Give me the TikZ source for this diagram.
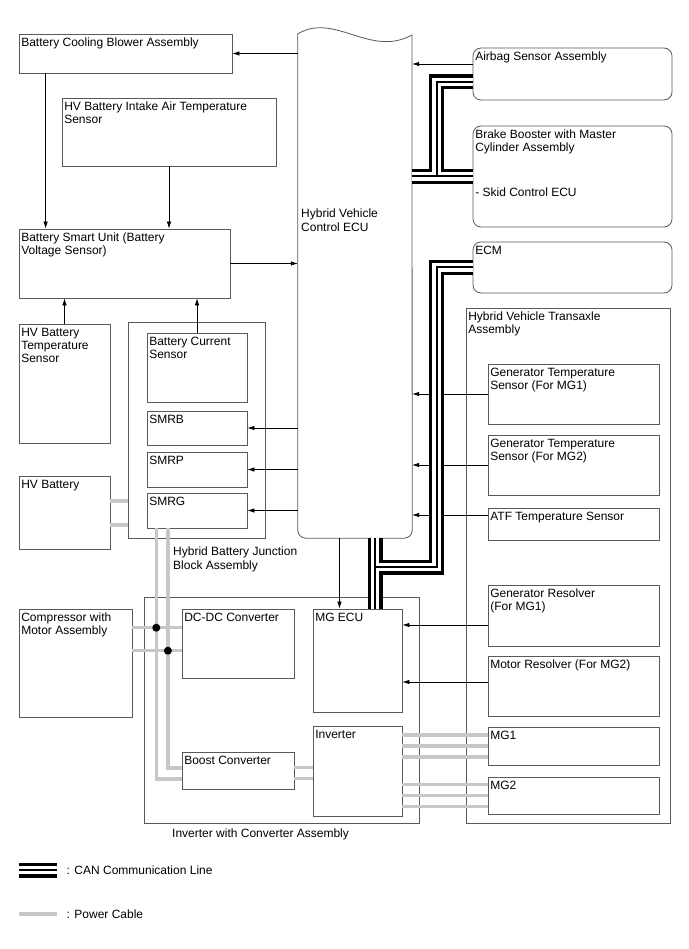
\documentclass[tikz,border=0pt]{standalone}
\usepackage{fontspec}
\setmainfont{Liberation Sans}
\usetikzlibrary{arrows.meta, fit, positioning}
\newcommand{\lbl}{\fontsize{12}{13.4}\selectfont}

\begin{document}
\begin{tikzpicture}[
    x=1pt, y=-1pt,
    box/.style={draw=black!65, line width=0.8pt, inner sep=0pt},
    rbox/.style={box, rounded corners=8pt},
    boxtext/.style={anchor=north west, align=left, inner xsep=2.5pt, inner ysep=4pt, font=\lbl},
    arrow/.style={-{Latex[length=7pt,width=4.5pt]}, line width=0.7pt},
    power/.style={line width=3.5pt, draw=black!22}
]
    \useasboundingbox[fill=white] (0,0) rectangle (688,949);

    % battery side
    \node[box, fit={(19,34) (232,73)}, label={[boxtext]north west:Battery Cooling Blower Assembly}] (blower) {};
    \node[box, fit={(62,98) (276,166)}, label={[boxtext]north west:{HV Battery Intake Air Temperature\\Sensor}}] (intake) {};
    \node[box, fit={(19,229) (230,298)}, label={[boxtext]north west:{Battery Smart Unit (Battery\\Voltage Sensor)}}] (smart) {};
    \node[box, fit={(19,324) (110,443)}, label={[boxtext]north west:{HV Battery\\Temperature\\Sensor}}] (btemp) {};
    \node[box, fit={(128,322) (265,538)}] (jblock) {};
    \node[box, fit={(147,333) (247,402)}, label={[boxtext]north west:{Battery Current\\Sensor}}] (current) {};
    \node[box, fit={(147,411) (247,445)}, label={[boxtext]north west:SMRB}] (smrb) {};
    \node[box, fit={(147,452) (247,487)}, label={[boxtext]north west:SMRP}] (smrp) {};
    \node[box, fit={(147,493) (247,528)}, label={[boxtext]north west:SMRG}] (smrg) {};
    \node[boxtext] (jblocktxt) at (170.5,543) {Hybrid Battery Junction\\Block Assembly};
    \node[box, fit={(19,476) (110,549)}, label={[boxtext]north west:HV Battery}] (hvbatt) {};
    \node[box, fit={(19,609) (132,717)}, label={[boxtext]north west:{Compressor with\\Motor Assembly}}] (compr) {};

    % inverter
    \node[box, fit={(144,597) (419,823)}] (invconv) {};
    \node[box, fit={(182,609) (294,678)}, label={[boxtext]north west:DC-DC Converter}] (dcdc) {};
    \node[box, fit={(182,752) (294,789)}, label={[boxtext]north west:Boost Converter}] (boost) {};
    \node[box, fit={(313,609) (402,712)}, label={[boxtext]north west:MG ECU}] (mgecu) {};
    \node[box, fit={(313,726) (402,816)}, label={[boxtext]north west:Inverter}] (inverter) {};
    \node[boxtext] (invtxt) at (169.5,825) {Inverter with Converter Assembly};

    % hybrid vehicle control ecu
    \node[fit={(298,34) (412,538)}, inner sep=0pt] (hvecu) {};
    \draw[draw=black!65, line width=0.8pt, line cap=round] (hvecu.north west) .. controls (335,12) and (370,58) .. (412,35);
    \draw[draw=black!65, line width=0.8pt, line cap=round, rounded corners=8pt] (412,35) -- (hvecu.south east) -- (hvecu.south west) -- (hvecu.north west);
    \node[boxtext] (hvecutxt) at (298.5,205) {Hybrid Vehicle\\Control ECU};

    % right side
    \node[rbox, fit={(473,48) (672,100)}, label={[boxtext]north west:Airbag Sensor Assembly}] (airbag) {};
    \node[rbox, fit={(473,126) (672,227)}, label={[boxtext]north west:{Brake Booster with Master\\Cylinder Assembly\\[31.6pt]- Skid Control ECU}}] (brake) {};
    \node[rbox, fit={(473,242) (672,293)}, label={[boxtext]north west:ECM}] (ecm) {};
    \node[box, fit={(466,308) (670,823)}, label={[boxtext]north west:{Hybrid Vehicle Transaxle\\Assembly}}] (transaxle) {};
    \node[box, fit={(488,364) (659,424)}, label={[boxtext]north west:{Generator Temperature\\Sensor (For MG1)}}] (gtemp1) {};
    \node[box, fit={(488,435) (659,495)}, label={[boxtext]north west:{Generator Temperature\\Sensor (For MG2)}}] (gtemp2) {};
    \node[box, fit={(488,508) (659,540)}, label={[boxtext]north west:ATF Temperature Sensor}] (atf) {};
    \node[box, fit={(488,585) (659,646)}, label={[boxtext]north west:{Generator Resolver\\(For MG1)}}] (gres) {};
    \node[box, fit={(488,656) (659,716)}, label={[boxtext]north west:Motor Resolver (For MG2)}] (mres) {};
    \node[box, fit={(488,727) (659,765)}, label={[boxtext]north west:MG1}] (mg1) {};
    \node[box, fit={(488,777) (659,814)}, label={[boxtext]north west:MG2}] (mg2) {};

    % signal lines
    \draw[arrow] (blower.east -| hvecu.west) -- (blower.east);
    \draw[arrow] ([xshift=27pt]blower.south west) -- ([xshift=27pt]blower.south west |- smart.north);
    \draw[arrow] (intake.south) -- (intake.south |- smart.north);
    \draw[arrow] (smart.east) -- (smart.east -| hvecu.west);
    \draw[arrow] (btemp.north) -- (btemp.north |- smart.south);
    \draw[arrow] (current.north) -- (current.north |- smart.south);
    \foreach \r in {smrb, smrp, smrg}
        \draw[arrow] (\r.east -| hvecu.west) -- (\r.east);
    \draw[arrow] ([yshift=10pt]airbag.west) -- ([yshift=10pt]airbag.west -| hvecu.east);
    \draw[arrow] (gtemp1.west) -- (gtemp1.west -| hvecu.east);
    \draw[arrow] (gtemp2.west) -- (gtemp2.west -| hvecu.east);
    \draw[arrow] ([yshift=9pt]atf.west) -- ([yshift=9pt]atf.west -| hvecu.east);
    \draw[arrow] ([yshift=-9.5pt]gres.west) -- ([yshift=-9.5pt]gres.west -| mgecu.east);
    \draw[arrow] ([yshift=4pt]mres.west) -- ([yshift=4pt]mres.west -| mgecu.east);
    \draw[arrow] ([xshift=-18pt]mgecu.north |- hvecu.south) -- ([xshift=-18pt]mgecu.north);

    % power cables
    \draw[power] ([yshift=11.5pt]hvbatt.east) -- ([yshift=11.5pt]hvbatt.east -| jblock.west);
    \draw[power] ([yshift=-12.5pt]hvbatt.east) -- ([yshift=-12.5pt]hvbatt.east -| jblock.west);
    \coordinate (tapA) at ([xshift=9.7pt]smrg.south west);
    \coordinate (tapB) at ([xshift=21.3pt]smrg.south west);
    \draw[power] (tapA) |- ([yshift=-8.5pt]boost.west);
    \draw[power] (tapB) |- ([yshift=2.5pt]boost.west);
    \coordinate (feedA) at ([yshift=15.8pt]dcdc.west);
    \coordinate (feedB) at ([yshift=-7.2pt]dcdc.west);
    \draw[power] (feedA -| compr.east) -- (feedA);
    \draw[power] (feedB -| compr.east) -- (feedB);
    \fill (tapA |- feedA) circle[radius=4];
    \fill (tapB |- feedB) circle[radius=4];
    \draw[power] ([yshift=2.8pt]boost.east) -- ([yshift=2.8pt]boost.east -| inverter.west);
    \draw[power] ([yshift=-7.8pt]boost.east) -- ([yshift=-7.8pt]boost.east -| inverter.west);
    \foreach \s in {10.8, 0, -10.8} {
        \draw[power] ([yshift=\s pt]mg1.west -| inverter.east) -- ([yshift=\s pt]mg1.west);
        \draw[power] ([yshift=\s pt]mg2.west -| inverter.east) -- ([yshift=\s pt]mg2.west);
    }

    % can bus
    \coordinate (busA) at (436.5,176);
    \coordinate (busB) at (436.5,567);
    \coordinate (trunk) at ([xshift=17.5pt]mgecu.north);
    \coordinate (canL) at (19,870);
    \coordinate (canR) at (57,870);
    \foreach \w/\col in {15/black, 8.5/white, 2/black} {
        \draw[line width=\w pt, \col] (brake.west -| hvecu.east) -- (brake.west);
        \draw[line width=\w pt, \col] ([yshift=-8pt]airbag.west) -| (busA);
        \draw[line width=\w pt, \col] (trunk |- hvecu.south) -- (trunk);
        \draw[line width=\w pt, \col] (ecm.west) -| (busB) -- (busB -| trunk);
        \draw[line width=\w pt, \col] (canL) -- (canR);
    }

    % legend
    \node[anchor=west, font=\lbl, inner xsep=2.5pt] (cantxt) at (64,870) {: CAN Communication Line};
    \coordinate (pwrL) at (19,914);
    \coordinate (pwrR) at (57,914);
    \draw[power] (pwrL) -- (pwrR);
    \node[anchor=west, font=\lbl, inner xsep=2.5pt] (pwrtxt) at (64,914) {: Power Cable};
\end{tikzpicture}
\end{document}
